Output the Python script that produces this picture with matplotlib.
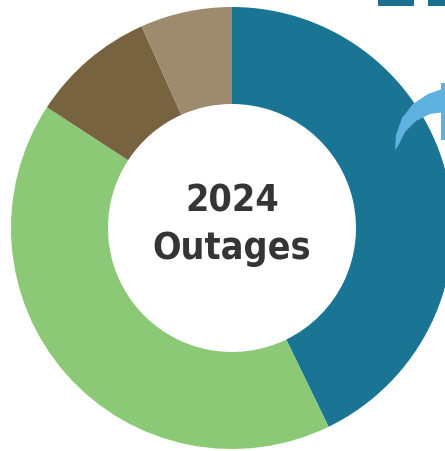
import matplotlib
matplotlib.use("Agg")
import matplotlib.pyplot as plt
from matplotlib import font_manager
from matplotlib.patches import Polygon, Rectangle

# share of outages per category (%)
labels = ["A", "B", "C", "D"]
values = [42.8, 41.4, 9.1, 6.7]
colors = ["#1a7594", "#8cc977", "#776340", "#9e8b6d"]

center_title = ["2024", "Outages"]

W, H = 445, 451
fig = plt.figure(figsize=(W / 100, H / 100), dpi=100)
ax = fig.add_axes([0, 0, 1, 1])
ax.set_xlim(0, W)
ax.set_ylim(0, H)
ax.set_aspect("equal")
ax.axis("off")

# donut
ax.pie(values, colors=colors, startangle=90, counterclock=False,
       center=(232, H - 228), radius=221,
       wedgeprops=dict(width=97, linewidth=0))
ax.set_xlim(0, W)
ax.set_ylim(0, H)

# narrow font if there is one
names = {f.name for f in font_manager.fontManager.ttflist}
txt_font = [n for n in ["Liberation Sans Narrow", "DejaVu Sans Condensed"] if n in names] + ["DejaVu Sans"]
ax.text(232, H - 202, center_title[0], ha="center", va="center",
        fontsize=27, fontweight="bold", color="#353535", family=txt_font,
        fontstretch="condensed")
ax.text(232, H - 249, center_title[1], ha="center", va="center",
        fontsize=27, fontweight="bold", color="#353535", family=txt_font,
        fontstretch="condensed")

# decorations cut off at the right edge
ax.add_patch(Rectangle((378, H - 6), 36, 8, color="#1b6f8e", lw=0))
ax.add_patch(Rectangle((428, H - 6), 20, 8, color="#1b6f8e", lw=0))
crescent = [(395, 150), (396, 135), (402, 118), (413, 104), (428, 94), (445, 88),
            (445, 112), (430, 114), (416, 121), (405, 132), (398, 146)]
ax.add_patch(Polygon([(x, H - y) for x, y in crescent], closed=True,
                     color="#5fb1e0", lw=0))
ax.add_patch(Rectangle((441, H - 140), 6, 57, color="#5fb1e0", lw=0))

fig.savefig("out.png", dpi=100)
